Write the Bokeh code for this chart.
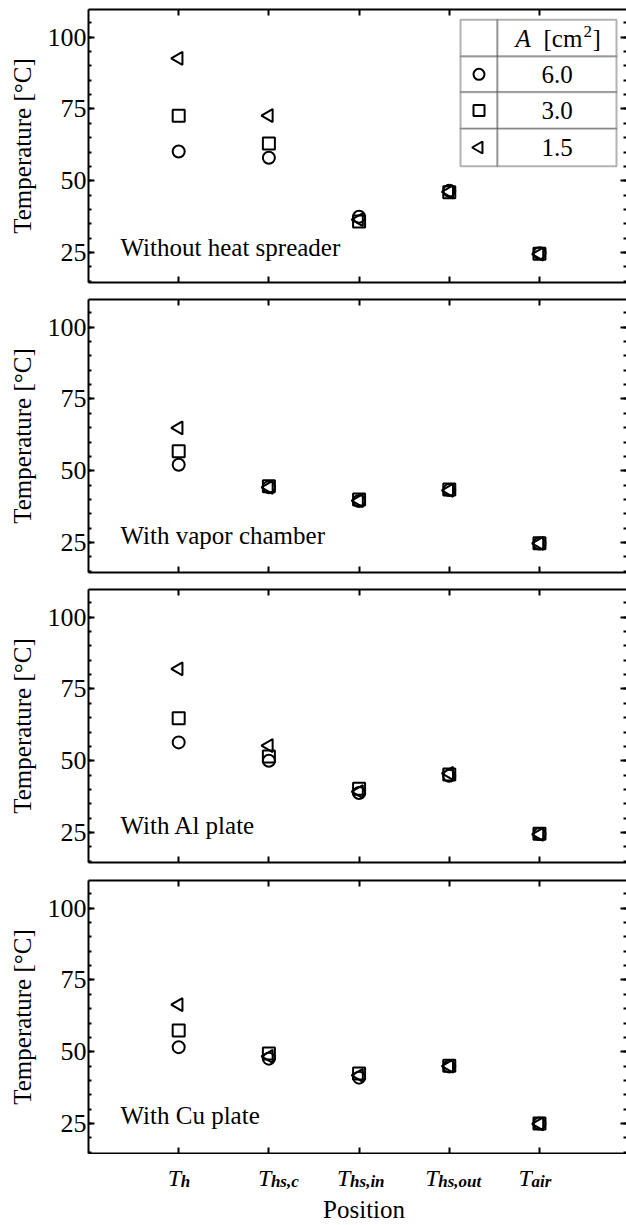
import math
from bokeh.plotting import figure
from bokeh.models import FixedTicker, LinearAxis, Label, BoxAnnotation, Range1d
from bokeh.layouts import column
from bokeh.embed import file_html
from bokeh.resources import INLINE

# ---------------- data ----------------
positions = [1, 2, 3, 4, 5]
position_subscripts = ["h", "hs,c", "hs,in", "hs,out", "air"]
area_labels = ["6.0", "3.0", "1.5"]
panel_titles = ["Without heat spreader", "With vapor chamber", "With Al plate", "With Cu plate"]

none_a60 = [60.2, 58.0, 37.5, 46.5, 24.8]
none_a30 = [72.6, 63.0, 35.8, 46.0, 24.6]
none_a15 = [92.6, 72.7, 36.5, 46.1, 24.5]

vc_a60 = [52.1, 44.3, 39.5, 43.3, 24.7]
vc_a30 = [56.8, 44.6, 40.0, 43.5, 24.8]
vc_a15 = [64.9, 44.2, 39.6, 43.2, 24.7]

al_a60 = [56.4, 50.0, 38.8, 44.8, 24.5]
al_a30 = [64.8, 51.5, 40.3, 45.2, 24.6]
al_a15 = [82.0, 55.3, 39.3, 45.6, 24.4]

cu_a60 = [51.6, 47.6, 41.0, 44.9, 25.0]
cu_a30 = [57.4, 49.4, 42.4, 45.1, 25.0]
cu_a15 = [66.4, 48.4, 41.8, 45.0, 24.9]

panel_data = [
    (none_a60, none_a30, none_a15),
    (vc_a60, vc_a30, vc_a15),
    (al_a60, al_a30, al_a15),
    (cu_a60, cu_a30, cu_a15),
]
y_ticks = [25, 50, 75, 100]
y_minor = list(range(15, 110, 5))

# ---------------- style ----------------
FONT = "Liberation Serif"
LEFT = 88
FIG_W = 626
FRAME_W = FIG_W - LEFT
X_LO, X_HI = 0, 5.965
Y_LO, Y_HI = 14.6, 109.6
FRAME_H = 273
PXY = FRAME_H / (Y_HI - Y_LO)
PXX = FRAME_W / (X_HI - X_LO)
markers = ["circle", "square", "triangle"]
marker_angles = [0, 0, math.pi / 2]
marker_sizes = [12, 12, 13]


def y_from_top(px):
    return Y_HI - px / PXY


def x_from_left(px):
    return X_LO + px / PXX


def style_axis(ax, ticks=None, line=True):
    ax.major_tick_in = 6
    ax.major_tick_out = 0
    ax.minor_tick_in = 3
    ax.minor_tick_out = 0
    ax.major_tick_line_width = 2
    ax.minor_tick_line_width = 2
    ax.major_tick_line_color = "black"
    ax.minor_tick_line_color = "black"
    ax.axis_line_width = 2
    ax.axis_line_color = "black" if line else None
    if ticks is not None:
        ax.major_label_overrides = {t: "" for t in ticks}
        ax.major_label_text_font_size = "0px"
        ax.major_label_standoff = 0
    return ax


def make_panel(i, height, b_top, b_bottom):
    p = figure(width=FIG_W, height=height,
               x_range=Range1d(X_LO, X_HI), y_range=Range1d(Y_LO, Y_HI),
               output_backend="svg", toolbar_location=None,
               x_axis_location=None, y_axis_location=None,
               min_border_left=LEFT, min_border_right=0,
               min_border_top=b_top, min_border_bottom=b_bottom)
    p.grid.visible = False
    p.outline_line_color = None
    p.background_fill_color = "white"
    p.border_fill_color = "white"

    yt = FixedTicker(ticks=y_ticks, minor_ticks=y_minor)
    xt = FixedTicker(ticks=positions, minor_ticks=[])

    left = LinearAxis(ticker=yt, axis_label="Temperature [°C]")
    style_axis(left)
    left.major_label_text_font = FONT
    left.major_label_text_font_size = "26px"
    left.major_label_text_color = "black"
    left.major_label_standoff = 2
    left.axis_label_text_font = FONT
    left.axis_label_text_font_style = "normal"
    left.axis_label_text_font_size = "25px"
    left.axis_label_text_color = "black"
    left.axis_label_standoff = 9
    p.add_layout(left, "left")

    right = style_axis(LinearAxis(ticker=yt), ticks=y_ticks, line=False)
    p.add_layout(right, "right")
    top = style_axis(LinearAxis(ticker=xt), ticks=positions)
    p.add_layout(top, "above")
    bottom = style_axis(LinearAxis(ticker=xt), ticks=positions)
    p.add_layout(bottom, "below")

    for k, ys in enumerate(panel_data[i]):
        p.scatter(x=positions, y=ys, marker=markers[k], angle=marker_angles[k],
                  size=marker_sizes[k], line_color="black", line_width=2,
                  fill_color=None)

    p.add_layout(Label(x=x_from_left(32), y=[26.8, 27.5, 27.6, 27.8][i], text=panel_titles[i],
                       text_font=FONT, text_font_size="25px", text_color="black",
                       text_baseline="alphabetic", text_align="left"))

    if i == 0:
        # legend table
        xs = [x_from_left(px) for px in (372, 409, 528)]
        ys = [y_from_top(px) for px in (10.3, 47, 82.7, 119.3, 156.7)]
        for r in range(4):
            for c in range(2):
                p.add_layout(BoxAnnotation(left=xs[c], right=xs[c + 1], top=ys[r], bottom=ys[r + 1],
                                           fill_color="white", fill_alpha=1.0,
                                           line_color="black", line_width=2))
        xm = (xs[0] + xs[1]) / 2
        xc = (xs[1] + xs[2]) / 2
        for k in range(3):
            yc = (ys[k + 1] + ys[k + 2]) / 2
            p.scatter(x=[xm], y=[yc], marker=markers[k], angle=marker_angles[k],
                      size=marker_sizes[k] - 1, line_color="black", line_width=2,
                      fill_color=None, level="overlay")
            p.add_layout(Label(x=xc, y=yc, text=area_labels[k], text_font=FONT,
                               text_font_size="25px", text_align="center",
                               text_baseline="middle", text_color="black"))
        yh = (ys[0] + ys[1]) / 2
        p.add_layout(Label(x=xs[1], y=yh, x_offset=18, text="A", text_font=FONT,
                           text_font_style="italic", text_font_size="25px",
                           text_baseline="middle", text_color="black"))
        p.add_layout(Label(x=xs[1], y=yh, x_offset=46, text="[cm", text_font=FONT,
                           text_font_size="25px", text_baseline="middle", text_color="black"))
        p.add_layout(Label(x=xs[1], y=yh + 7 / PXY, x_offset=86, text="2", text_font=FONT,
                           text_font_size="17px", text_baseline="middle", text_color="black"))
        p.add_layout(Label(x=xs[1], y=yh, x_offset=95, text="]", text_font=FONT,
                           text_font_size="25px", text_baseline="middle", text_color="black"))
    return p


def make_strip(height):
    # strip below the last panel holding the position tick labels and axis title
    s = figure(width=FIG_W, height=height,
               x_range=Range1d(X_LO, X_HI), y_range=Range1d(0, height),
               output_backend="svg", toolbar_location=None,
               x_axis_location=None, y_axis_location=None,
               min_border_left=LEFT, min_border_right=0,
               min_border_top=0, min_border_bottom=0)
    s.grid.visible = False
    s.outline_line_color = None
    s.background_fill_color = "white"
    s.border_fill_color = "white"
    t_offsets = [-11, -11, -22, -24, -21]
    for k, xp in enumerate(positions):
        s.add_layout(Label(x=xp, y=height - 23, x_offset=t_offsets[k], text="T",
                           text_font=FONT, text_font_style="italic", text_font_size="24px",
                           text_baseline="alphabetic", text_align="left", text_color="black"))
        s.add_layout(Label(x=xp, y=height - 27, x_offset=t_offsets[k] + 13,
                           text=position_subscripts[k], text_font=FONT,
                           text_font_style="bold italic", text_font_size="17px",
                           text_baseline="alphabetic", text_align="left", text_color="black"))
    s.add_layout(Label(x=3, y=height - 55, x_offset=5, text="Position", text_font=FONT,
                       text_font_size="25px", text_baseline="alphabetic",
                       text_align="center", text_color="black"))
    return s


p1 = make_panel(0, 290, 9, 8)
p2 = make_panel(1, 290, 9, 8)
p3 = make_panel(2, 290, 9, 8)
p4 = make_panel(3, 284, 10, 1)
strip = make_strip(70)

layout = column(p1, p2, p3, p4, strip)
open("out.html", "w").write(file_html(layout, INLINE))
